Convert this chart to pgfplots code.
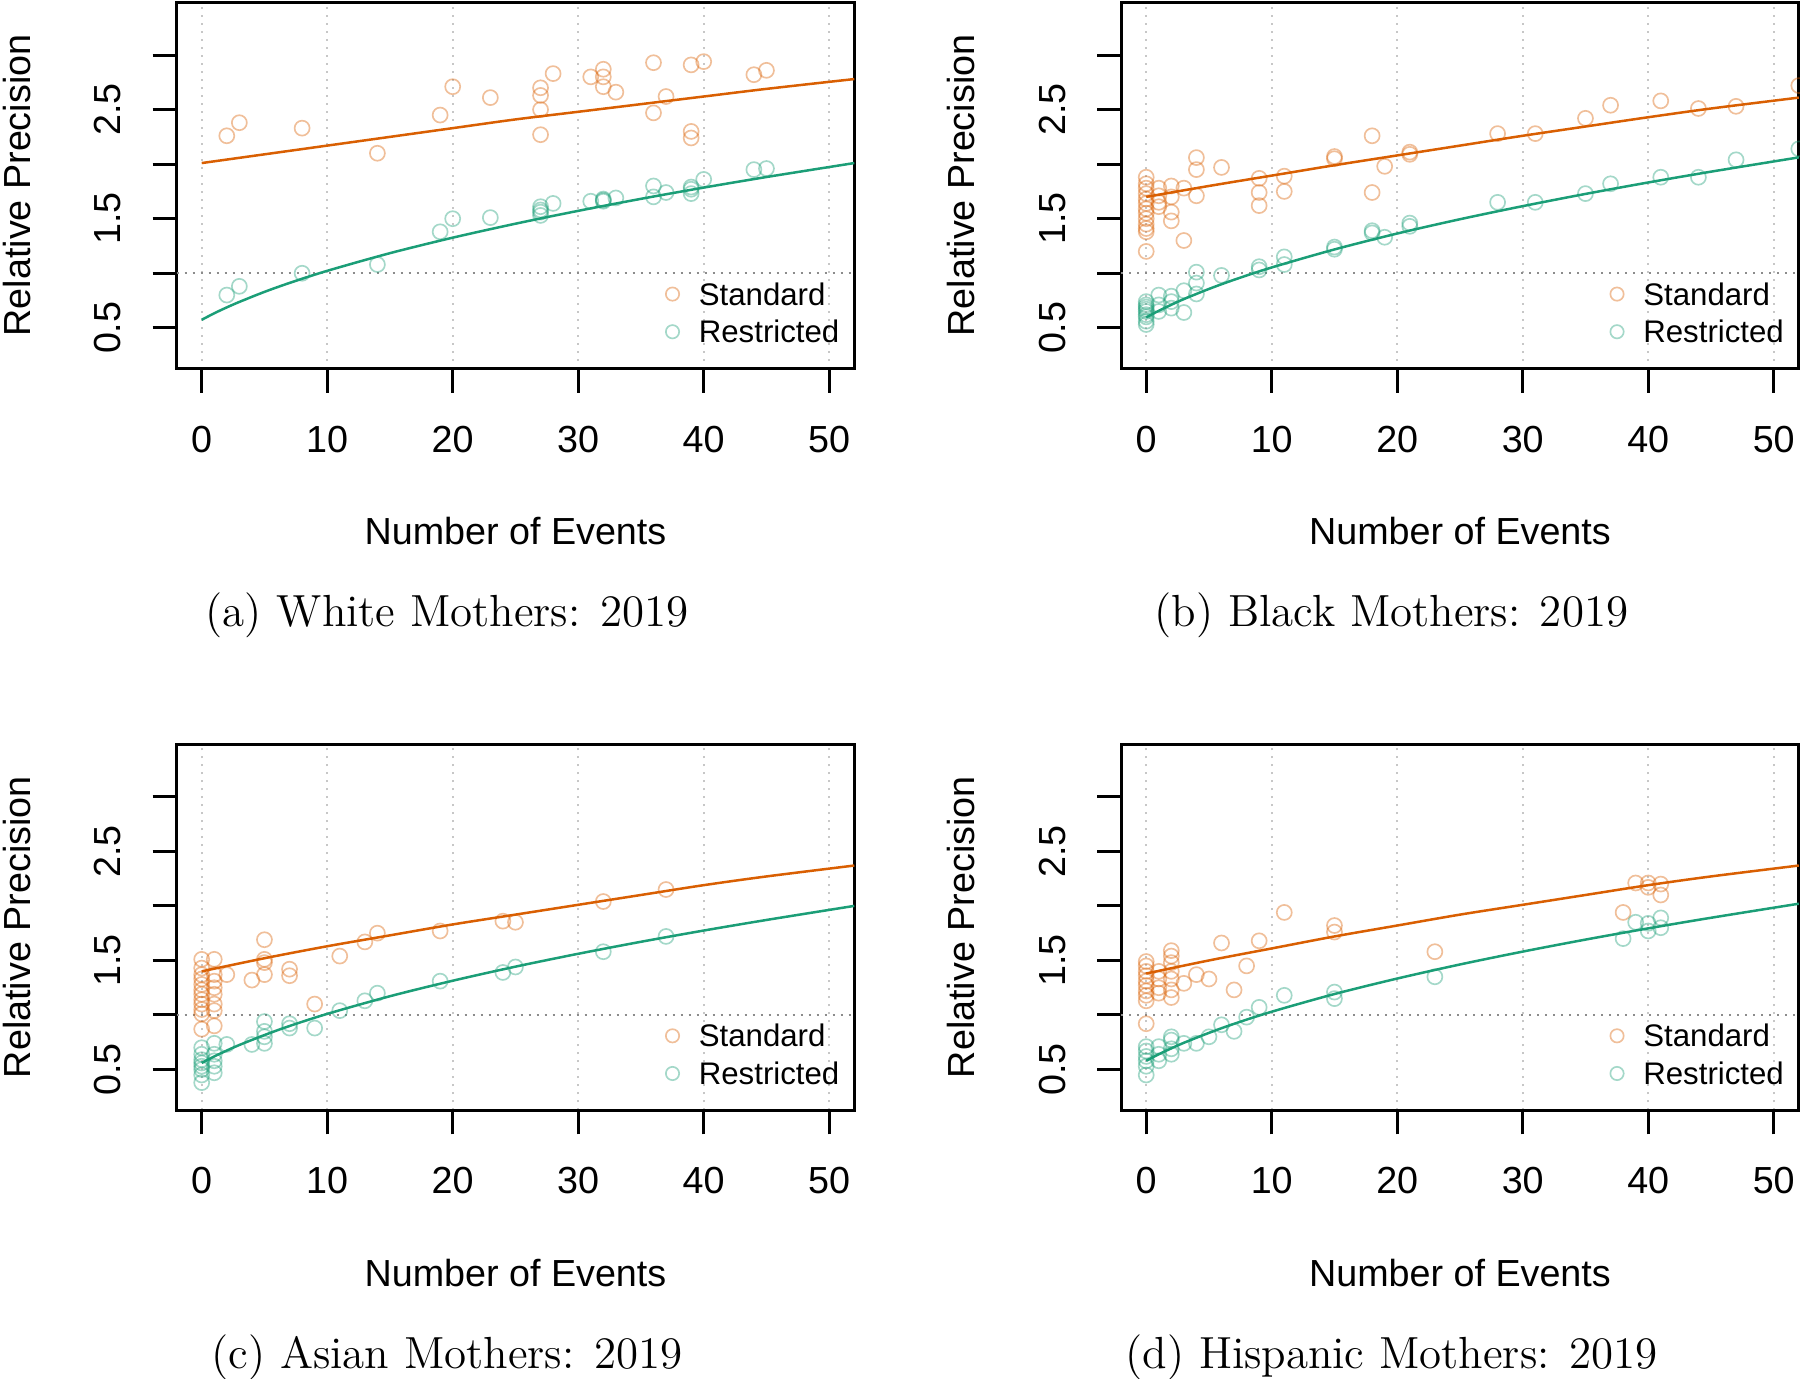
\documentclass[border=0pt]{standalone}
\usepackage{fontspec}
\newfontfamily\arial{Liberation Sans}
\usepackage{pgfplots}
\pgfplotsset{compat=1.18}
\definecolor{stdc}{HTML}{D95F02}
\definecolor{resc}{HTML}{1B9E77}
\newcommand{\axfont}{\arial\fontsize{11.31}{13}\selectfont}
\newcommand{\lgfont}{\arial\fontsize{9.36}{11}\selectfont}
\pgfplotsset{
  rpaxis/.style={
    scale only axis, width=203.31pt, height=109.89pt,
    anchor=south west,
    xmin=-2, xmax=52, ymin=0.126, ymax=3.484,
    axis line style={line width=0.9pt},
    tick align=outside, tick pos=left,
    major tick length=7.2pt,
    every tick/.style={black, line width=0.9pt},
    xtick={0,10,...,50},
    ytick={0.5,1,1.5,2,2.5,3},
    yticklabels={0.5,,1.5,,2.5,},
    xmajorgrids,
    major grid style={line width=0.6pt, black!22, dash pattern=on 0.6pt off 1.8pt},
    tick label style={font=\axfont},
    /pgf/number format/assume math mode=true,
    xticklabel style={anchor=base, yshift=-17.9pt},
    yticklabel style={xshift=-9.3pt, rotate=90, anchor=south, inner sep=0pt},
    xlabel={Number of Events}, ylabel={Relative Precision},
    label style={font=\axfont},
    xlabel style={at={(axis description cs:0.5,-0.4797)}, anchor=base},
    ylabel style={at={(axis description cs:-0.2163,0.5)}, anchor=base},
    legend cell align=left,
    legend style={draw=none, fill=none, at={(rel axis cs:1,0)}, anchor=south east,
      xshift=-4.5pt, yshift=7.7pt, inner sep=0pt, outer sep=0pt, row sep=4.6pt,
      font=\lgfont, nodes={inner sep=0pt, text height=6.7pt, text depth=0pt},
      /tikz/every odd column/.append style={column sep=5.9pt}},
  },
  ptstd/.style={only marks, mark=o, mark size=2.25pt, color=stdc,
    mark options={draw opacity=0.4, line width=0.5pt, solid},
    legend image code/.code={\draw[##1, mark size=2pt] plot coordinates {(0pt,0pt)};}},
  ptres/.style={only marks, mark=o, mark size=2.25pt, color=resc,
    mark options={draw opacity=0.4, line width=0.5pt, solid},
    legend image code/.code={\draw[##1, mark size=2pt] plot coordinates {(0pt,0pt)};}},
  lnstd/.style={stdc, line width=0.75pt, smooth, no markers, forget plot},
  lnres/.style={resc, line width=0.75pt, smooth, no markers, forget plot},
  hone/.style={black!45, line width=0.6pt, dash pattern=on 0.6pt off 1.8pt, forget plot},
}
\begin{document}
\begin{tikzpicture}
\useasboundingbox (0,0) rectangle (540pt,413.7pt);

% ---------------- (a) White ----------------
\begin{axis}[rpaxis, at={(52.98pt,303.12pt)}]
\addplot[hone] coordinates {(-2,1) (52,1)};
\addplot[ptstd] coordinates {
(2,2.26) (3,2.38) (8,2.33) (14,2.10) (19,2.45) (20,2.71) (23,2.61)
(27,2.70) (27,2.63) (27,2.50) (27,2.27) (28,2.83) (31,2.80)
(32,2.87) (32,2.80) (32,2.71) (33,2.66) (36,2.93) (36,2.47) (37,2.62)
(39,2.91) (39,2.30) (39,2.24) (40,2.94) (44,2.82) (45,2.86)};
\addlegendentry{Standard}
\addplot[ptres] coordinates {
(2,0.80) (3,0.88) (8,1.00) (14,1.08) (19,1.38) (20,1.50) (23,1.51)
(27,1.61) (27,1.58) (27,1.53) (27,1.56) (28,1.64) (31,1.66)
(32,1.68) (32,1.66) (32,1.67) (33,1.69) (36,1.80) (36,1.70) (37,1.74)
(39,1.79) (39,1.73) (39,1.77) (40,1.86) (44,1.95) (45,1.96)};
\addlegendentry{Restricted}
\addplot[lnstd] coordinates {(0,2.01) (5,2.09) (10,2.17) (15,2.25) (20,2.33) (25,2.41) (30,2.48) (35,2.55) (40,2.62) (45,2.69) (52,2.78)};
\addplot[lnres] coordinates {(0,0.573) (1,0.633) (2,0.687) (3,0.737) (5,0.829) (7,0.911) (10,1.022) (15,1.184) (20,1.326) (25,1.454) (30,1.572) (35,1.682) (40,1.785) (45,1.882) (52,2.010)};
\end{axis}

% ---------------- (b) Black ----------------
\begin{axis}[rpaxis, at={(336.33pt,303.12pt)}]
\addplot[hone] coordinates {(-2,1) (52,1)};
\addplot[ptstd] coordinates {
(0,1.88) (0,1.82) (0,1.78) (0,1.73) (0,1.68) (0,1.64) (0,1.59) (0,1.55) (0,1.50) (0,1.45) (0,1.41) (0,1.38) (0,1.20)
(1,1.78) (1,1.71) (1,1.65) (1,1.61)
(2,1.80) (2,1.70) (2,1.56) (2,1.48)
(3,1.78) (3,1.30)
(4,2.06) (4,1.95) (4,1.71)
(6,1.97)
(9,1.87) (9,1.74) (9,1.62)
(11,1.89) (11,1.75)
(15,2.07) (15,2.05)
(18,2.26) (18,1.74) (19,1.98)
(21,2.11) (21,2.09)
(28,2.28) (31,2.28) (35,2.42) (37,2.54) (41,2.58) (44,2.51) (47,2.53) (52,2.72)};
\addlegendentry{Standard}
\addplot[ptres] coordinates {
(0,0.74) (0,0.71) (0,0.69) (0,0.67) (0,0.65) (0,0.62) (0,0.60) (0,0.56) (0,0.53)
(1,0.80) (1,0.71) (1,0.65)
(2,0.79) (2,0.74) (2,0.68)
(3,0.84) (3,0.64)
(4,1.01) (4,0.91) (4,0.81)
(6,0.98)
(9,1.06) (9,1.03)
(11,1.15) (11,1.08)
(15,1.24) (15,1.22)
(18,1.39) (18,1.37) (19,1.33)
(21,1.46) (21,1.43)
(28,1.65) (31,1.65) (35,1.73) (37,1.82) (41,1.88) (44,1.88) (47,2.04) (52,2.14)};
\addlegendentry{Restricted}
\addplot[lnstd] coordinates {(0,1.70) (5,1.80) (10,1.895) (15,1.99) (20,2.08) (25,2.17) (30,2.26) (35,2.345) (40,2.43) (45,2.51) (52,2.61)};
\addplot[lnres] coordinates {(0,0.595) (1,0.656) (2,0.711) (3,0.763) (5,0.856) (7,0.940) (10,1.053) (15,1.218) (20,1.364) (25,1.495) (30,1.615) (35,1.727) (40,1.832) (45,1.931) (52,2.062)};
\end{axis}

% ---------------- (c) Asian ----------------
\begin{axis}[rpaxis, at={(52.98pt,80.6pt)}]
\addplot[hone] coordinates {(-2,1) (52,1)};
\addplot[ptstd] coordinates {
(0,1.51) (0,1.43) (0,1.37) (0,1.33) (0,1.28) (0,1.23) (0,1.19) (0,1.14) (0,1.10) (0,1.05) (0,1.01) (0,0.87)
(1,1.51) (1,1.37) (1,1.31) (1,1.25) (1,1.19) (1,1.10) (1,1.04) (1,0.90)
(2,1.37) (4,1.32)
(5,1.69) (5,1.51) (5,1.48) (5,1.37)
(7,1.42) (7,1.36)
(9,1.10) (11,1.54) (13,1.67) (14,1.75) (19,1.77) (24,1.86) (25,1.85) (32,2.04) (37,2.15)};
\addlegendentry{Standard}
\addplot[ptres] coordinates {
(0,0.70) (0,0.64) (0,0.59) (0,0.56) (0,0.53) (0,0.50) (0,0.45) (0,0.38)
(1,0.74) (1,0.64) (1,0.58) (1,0.53) (1,0.47)
(2,0.73) (4,0.73)
(5,0.94) (5,0.85) (5,0.74) (5,0.80)
(7,0.92) (7,0.88)
(9,0.88) (11,1.04) (13,1.13) (14,1.20) (19,1.31) (24,1.39) (25,1.44) (32,1.58) (37,1.72)};
\addlegendentry{Restricted}
\addplot[lnstd] coordinates {(0,1.40) (5,1.52) (10,1.63) (15,1.73) (20,1.83) (25,1.92) (30,2.01) (35,2.10) (40,2.19) (45,2.27) (52,2.37)};
\addplot[lnres] coordinates {(0,0.560) (1,0.620) (2,0.674) (3,0.725) (5,0.816) (7,0.899) (10,1.010) (15,1.172) (20,1.314) (25,1.443) (30,1.561) (35,1.671) (40,1.774) (45,1.871) (52,2.000)};
\end{axis}

% ---------------- (d) Hispanic ----------------
\begin{axis}[rpaxis, at={(336.33pt,80.6pt)}]
\addplot[hone] coordinates {(-2,1) (52,1)};
\addplot[ptstd] coordinates {
(0,1.49) (0,1.45) (0,1.40) (0,1.36) (0,1.31) (0,1.27) (0,1.22) (0,1.18) (0,1.13) (0,0.92)
(1,1.40) (1,1.33) (1,1.25) (1,1.20)
(2,1.59) (2,1.54) (2,1.48) (2,1.40) (2,1.33) (2,1.23) (2,1.16)
(3,1.29) (4,1.37) (5,1.33) (6,1.66) (7,1.23) (8,1.45) (9,1.68) (11,1.94)
(15,1.82) (15,1.76) (23,1.58)
(38,1.94) (39,2.21) (40,2.21) (40,2.17) (41,2.20) (41,2.10)};
\addlegendentry{Standard}
\addplot[ptres] coordinates {
(0,0.71) (0,0.67) (0,0.62) (0,0.58) (0,0.53) (0,0.45)
(1,0.71) (1,0.64) (1,0.58)
(2,0.80) (2,0.77) (2,0.69) (2,0.64)
(3,0.74) (4,0.74) (5,0.80) (6,0.91) (7,0.85) (8,0.98) (9,1.07) (11,1.18)
(15,1.21) (15,1.15) (23,1.35)
(38,1.70) (39,1.85) (40,1.84) (40,1.77) (41,1.89) (41,1.80)};
\addlegendentry{Restricted}
\addplot[lnstd] coordinates {(0,1.38) (5,1.50) (10,1.61) (15,1.72) (20,1.82) (25,1.92) (30,2.01) (35,2.10) (40,2.19) (45,2.27) (52,2.37)};
\addplot[lnres] coordinates {(0,0.580) (1,0.640) (2,0.694) (3,0.745) (5,0.836) (7,0.919) (10,1.030) (15,1.192) (20,1.334) (25,1.463) (30,1.581) (35,1.691) (40,1.794) (45,1.891) (52,2.020)};
\end{axis}

\node[anchor=base, font=\fontsize{13.5}{16}\selectfont] at (134.1pt,225.69pt) {(a) White Mothers: 2019};
\node[anchor=base, font=\fontsize{13.5}{16}\selectfont] at (417.45pt,225.69pt) {(b) Black Mothers: 2019};
\node[anchor=base, font=\fontsize{13.5}{16}\selectfont] at (134.1pt,3.19pt) {(c) Asian Mothers: 2019};
\node[anchor=base, font=\fontsize{13.5}{16}\selectfont] at (417.45pt,3.19pt) {(d) Hispanic Mothers: 2019};
\end{tikzpicture}
\end{document}
